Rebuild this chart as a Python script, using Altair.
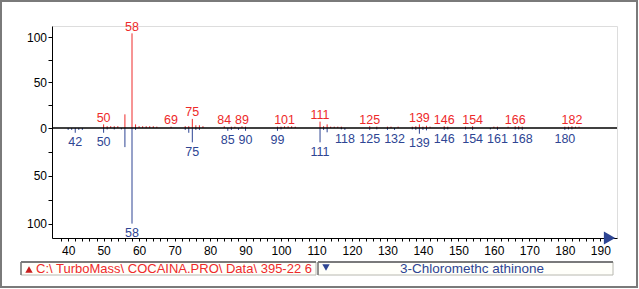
import altair as alt
import pandas as pd

# ---- data ----
top_mz = [50, 51, 52, 53, 54, 56, 58, 59, 60, 61, 62, 63, 64, 65, 69,
          73, 74, 75, 76, 77, 78, 84, 86, 87, 89, 90, 99, 100, 101, 102, 103, 104,
          111, 112, 113, 114, 115, 116, 117, 125, 127, 130, 131, 133,
          137, 138, 139, 140, 141, 142, 146, 147, 152, 154, 160, 161,
          164, 166, 167, 168, 180, 181, 182, 183, 184]
top_int = [4, 2, 2, 2, 2, 15, 104, 4, 2, 2, 2, 2, 2, 1.5, 1.5,
           2, 2, 10, 3, 3, 2, 2, 1.5, 1.5, 2, 1.5, 1.5, 1.5, 2, 2, 2, 1.5,
           7, 2, 4, 1.5, 1.5, 1.5, 1.5, 2, 1.5, 1.5, 1.5, 1.5,
           1.5, 2, 4, 1.5, 2.5, 1.5, 2, 1.5, 1.5, 2, 1.5, 1.5,
           1.5, 2, 2, 1.5, 1.5, 1.5, 2, 1.5, 1.5]
top_labels = [50, 58, 69, 75, 84, 89, 101, 111, 125, 139, 146, 154, 166, 182]

bot_mz = [40, 41, 42, 43, 44, 50, 51, 53, 55, 56, 58, 59,
          73, 74, 75, 76, 77, 85, 86, 88, 90, 99, 100,
          111, 112, 113, 117, 118, 125, 127, 130, 132,
          137, 138, 139, 140, 141, 146, 147, 152, 154, 159, 161,
          166, 167, 168, 180, 181, 182]
bot_int = [2, 2, 5, 2, 2, 5, 1.5, 1.5, 1.5, 20, 100, 2,
           2, 5, 15, 2, 2, 3, 2, 2, 3, 3, 1.5,
           15, 2, 4.5, 1.5, 2, 2, 1.5, 2, 2,
           1.5, 2, 6, 2, 2.5, 2, 1.5, 1.5, 2, 1.5, 2,
           1.5, 1.5, 2, 2, 1.5, 1.5]
bot_labels = [42, 50, 58, 75, 85, 90, 99, 111, 118, 125, 132, 139, 146,
              154, 161, 168, 180]

x_ticks = list(range(38, 191, 2))
y_tick_pct = [100, 75, 50, 25, 0]

file_text = "C:\\ TurboMass\\ COCAINA.PRO\\ Data\\ 395-22 6"
lib_text = "3-Chloromethc athinone"

RED = "#ee2a2a"
BLUE = "#2e4593"
FONT = "Liberation Sans"

# pixel factor per % for the upper and the lower half
TOP_K = 0.91
BOT_K = 0.956

peaks = pd.DataFrame({
    "mz": top_mz + bot_mz,
    "intensity": top_int + bot_int,
    "side": ["top"] * len(top_mz) + ["bottom"] * len(bot_mz),
})
tdict = dict(zip(top_mz, top_int))
bdict = dict(zip(bot_mz, bot_int))
lab_top = pd.DataFrame({"mz": top_labels,
                        "intensity": [tdict[m] for m in top_labels],
                        "side": "top"})
lab_bot = pd.DataFrame({"mz": bot_labels,
                        "intensity": [bdict[m] for m in bot_labels],
                        "side": "bottom"})

calc = f"datum.side == 'top' ? datum.intensity * {TOP_K} : -datum.intensity * {BOT_K}"

xs = alt.Scale(domain=[35.45, 194.7], nice=False, zero=False)
ys = alt.Scale(domain=[-110, 102], nice=False, zero=False)

y_vals = [p * TOP_K for p in y_tick_pct] + [-p * BOT_K for p in y_tick_pct if p > 0]

xaxis = alt.Axis(title=None, values=x_ticks, grid=False,
                 labelExpr="datum.value % 10 === 0 ? format(datum.value, 'd') : ''",
                 labelOverlap=False, labelFlush=False, tickSize=3, labelPadding=4.5,
                 domainColor="black", tickColor="black", labelColor="black",
                 labelFontSize=12, labelFont=FONT)
yaxis = alt.Axis(title=None, values=y_vals, grid=False,
                 labelExpr=("abs(datum.value) < 0.5 ? '0' : abs(datum.value) < 35 ? '' : "
                            "abs(datum.value) < 55 ? '50' : abs(datum.value) < 80 ? '' : '100'"),
                 labelOverlap=False, labelFlush=False, tickSize=4, labelPadding=1.5,
                 domainColor="black", tickColor="black", labelColor="black",
                 labelFontSize=12, labelFont=FONT)

X = alt.X("mz:Q", scale=xs, axis=xaxis)
Y = alt.Y("py:Q", scale=ys, axis=yaxis)
color = alt.Color("side:N", scale=alt.Scale(domain=["top", "bottom"], range=[RED, BLUE]),
                  legend=None)

zero_line = alt.Chart(pd.DataFrame({"py": [0]})).mark_rule(
    color="black", strokeWidth=1.5).encode(y=Y)

sticks = alt.Chart(peaks).transform_calculate(py=calc, zero="0").mark_rule(
    strokeWidth=1).encode(x=X, y=Y, y2="zero:Q", color=color)

top_text = alt.Chart(lab_top).transform_calculate(py=calc).mark_text(
    font=FONT, fontSize=12.5, baseline="alphabetic", dy=-2.5, color=RED).encode(
    x=X, y=Y, text="mz:N")
bot_text = alt.Chart(lab_bot).transform_calculate(py=calc).mark_text(
    font=FONT, fontSize=12.5, baseline="top", dy=3.5, color=BLUE).encode(
    x=X, y=Y, text="mz:N")

arrow = alt.Chart(pd.DataFrame({"mz": [192.6]})).mark_point(
    shape="triangle-right", filled=True, size=170, color=BLUE, opacity=1).encode(
    x=X, y=alt.value(212))

one = pd.DataFrame({"a": [0]})
frame = alt.Chart(one).mark_rect(fill=None, stroke="#7a7a7a", strokeWidth=2).encode(
    x=alt.value(-51), x2=alt.value(585), y=alt.value(-25), y2=alt.value(261))
box_l = alt.Chart(one).mark_rect(fill="#fffffa", stroke="#b8b8b0", strokeWidth=1).encode(
    x=alt.value(-31), x2=alt.value(264), y=alt.value(236), y2=alt.value(249))
box_r = alt.Chart(one).mark_rect(fill="#fffffa", stroke="#b8b8b0", strokeWidth=1).encode(
    x=alt.value(266), x2=alt.value(561), y=alt.value(236), y2=alt.value(249))
edge_l = alt.Chart(one).mark_rule(color="#7a7a7a", strokeWidth=2).encode(
    x=alt.value(-31), x2=alt.value(264), y=alt.value(236))
edge_r = alt.Chart(one).mark_rule(color="#7a7a7a", strokeWidth=2).encode(
    x=alt.value(266), x2=alt.value(561), y=alt.value(236))
edge_lv = alt.Chart(one).mark_rule(color="#7a7a7a", strokeWidth=1.5).encode(
    x=alt.value(-31), y=alt.value(236), y2=alt.value(249))
edge_rv = alt.Chart(one).mark_rule(color="#7a7a7a", strokeWidth=1.5).encode(
    x=alt.value(266), y=alt.value(236), y2=alt.value(249))
tri_l = alt.Chart(one).mark_point(shape="triangle-up", filled=True, size=55,
                                  color="#c81e1e", opacity=1).encode(
    x=alt.value(-23), y=alt.value(243.5))
tri_r = alt.Chart(one).mark_point(shape="triangle-down", filled=True, size=55,
                                  color=BLUE, opacity=1).encode(
    x=alt.value(274), y=alt.value(241.5))
txt_l = alt.Chart(one).mark_text(font=FONT, fontSize=13, align="left", baseline="middle",
                                 color=RED).encode(
    x=alt.value(-16), y=alt.value(243), text=alt.value(file_text))
txt_r = alt.Chart(one).mark_text(font=FONT, fontSize=13.5, align="center", baseline="middle",
                                 color=BLUE).encode(
    x=alt.value(420), y=alt.value(243), text=alt.value(lib_text))

chart = alt.layer(
    frame, box_l, box_r, edge_l, edge_r, edge_lv, edge_rv, tri_l, tri_r, txt_l, txt_r,
    sticks, zero_line, top_text, bot_text, arrow
).properties(
    width=565, height=212,
    autosize=alt.AutoSizeParams(type="none"),
    padding={"left": 52, "top": 26, "right": 22, "bottom": 51},
    background="white",
).configure_view(stroke=None).configure(font=FONT)

chart.save("out.html", embed_options={"renderer": "svg", "actions": False})
